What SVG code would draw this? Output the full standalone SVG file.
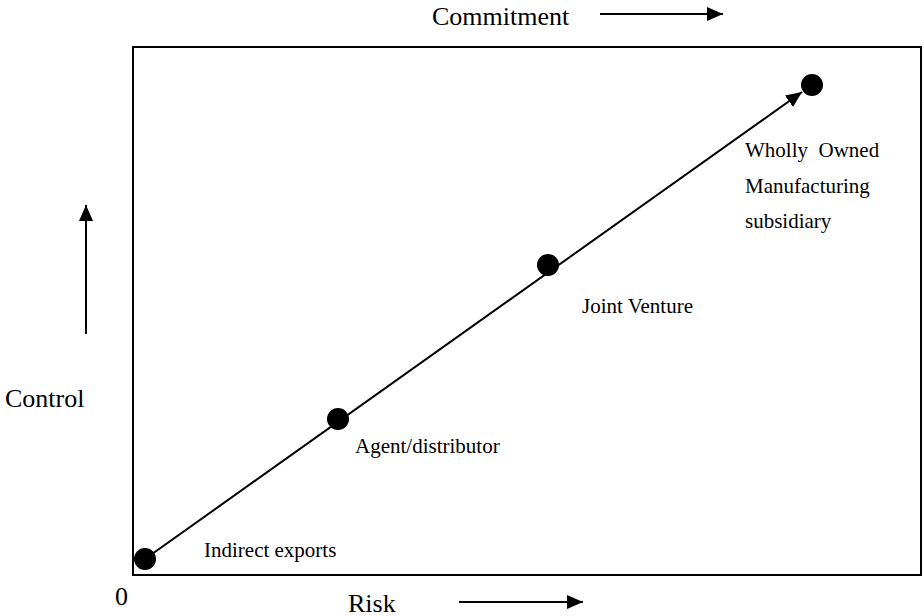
<svg xmlns="http://www.w3.org/2000/svg" width="924" height="616" viewBox="0 0 924 616">
<style>
text{font-family:"Liberation Serif","Times New Roman",serif;fill:#000;white-space:pre}
.big{font-size:26px}
.lbl{font-size:21px}
.ln{stroke:#000;stroke-width:2;fill:none}
.dot{fill:#000}
</style>
<defs>
<marker id="ah" markerUnits="userSpaceOnUse" markerWidth="16" markerHeight="14" refX="16" refY="7" orient="auto">
<path d="M0,0 L16,7 L0,14 Z" fill="#000"/>
</marker>
</defs>
<rect x="133" y="47" width="788" height="528" fill="none" stroke="#000" stroke-width="2"/>
<g id="axes">
<text class="big" x="432" y="25">Commitment</text>
<line class="ln" x1="600" y1="14" x2="723" y2="14" marker-end="url(#ah)"/>
<text class="big" x="5" y="407">Control</text>
<line class="ln" x1="86" y1="334" x2="86" y2="205" marker-end="url(#ah)"/>
<text class="big" x="348" y="612">Risk</text>
<line class="ln" x1="459" y1="602" x2="583" y2="602" marker-end="url(#ah)"/>
<text class="big" x="115" y="605">0</text>
</g>
<g id="connectors">
<line class="ln" x1="145" y1="559" x2="802" y2="92" marker-end="url(#ah)"/>
</g>
<g id="indirect">
<circle class="dot" cx="145" cy="559" r="11"/>
<text class="lbl" x="204" y="557">Indirect exports</text>
</g>
<g id="agent">
<circle class="dot" cx="338" cy="419" r="11"/>
<text class="lbl" x="355" y="453">Agent/distributor</text>
</g>
<g id="jv">
<circle class="dot" cx="548" cy="265" r="11"/>
<text class="lbl" x="582" y="313">Joint Venture</text>
</g>
<g id="wholly">
<circle class="dot" cx="812" cy="85" r="11"/>
<text class="lbl" x="745" y="157">Wholly  Owned</text>
<text class="lbl" x="745" y="193">Manufacturing</text>
<text class="lbl" x="745" y="228">subsidiary</text>
</g>
</svg>
